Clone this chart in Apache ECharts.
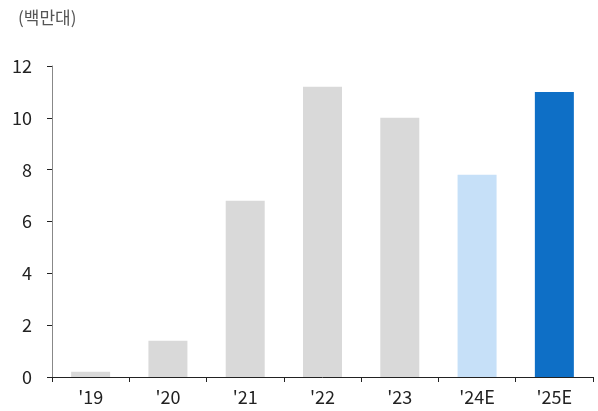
<!DOCTYPE html>
<html>
<head>
<meta charset="utf-8">
<script src="https://cdn.jsdelivr.net/npm/echarts@6/dist/echarts.min.js"></script>
<style>
  html, body { margin: 0; padding: 0; background: #fff; }
  #chart { width: 598px; height: 411px; }
</style>
</head>
<body>
<div id="chart"></div>
<script>
// Annual units, millions
const categories = ["'19", "'20", "'21", "'22", "'23", "'24E", "'25E"];
const values = [0.2, 1.4, 6.8, 11.2, 10.0, 7.8, 11.0];
const barColors = ['#D9D9D9', '#D9D9D9', '#D9D9D9', '#D9D9D9', '#D9D9D9', '#C6E0F8', '#0E6FC6'];
const yTicks = { min: 0, max: 12, interval: 2 };
const unitLabel = '(백만대)';

const font = '"Noto Sans CJK KR", "Noto Sans", sans-serif';
const chart = echarts.init(document.getElementById('chart'));
chart.setOption({
  animation: false,
  textStyle: { fontFamily: font },
  title: {
    text: unitLabel,
    left: 13, top: 4,
    textStyle: { fontFamily: font, fontSize: 17, fontWeight: 'normal', color: '#555' }
  },
  grid: { left: 52, right: 5, top: 66, bottom: 34, containLabel: false },
  xAxis: {
    type: 'category',
    data: categories,
    axisLine: { lineStyle: { color: '#222', width: 1 } },
    axisTick: { show: true, length: 5, lineStyle: { color: '#222' } },
    axisLabel: { fontFamily: font, fontSize: 18, color: '#222', margin: 11 }
  },
  yAxis: {
    type: 'value',
    min: yTicks.min, max: yTicks.max, interval: yTicks.interval,
    axisLine: { show: true, lineStyle: { color: '#888', width: 1 } },
    axisTick: { show: true, length: 5, lineStyle: { color: '#222' } },
    splitLine: { show: false },
    axisLabel: { fontFamily: font, fontSize: 18, color: '#222', margin: 20 }
  },
  series: [{
    type: 'bar',
    barWidth: 39,
    data: values.map((v, i) => ({ value: v, itemStyle: { color: barColors[i] } }))
  }]
});
</script>
</body>
</html>
